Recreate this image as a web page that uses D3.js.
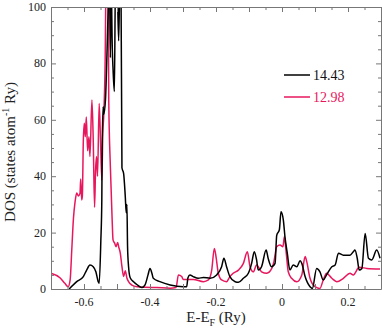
<!DOCTYPE html>
<html><head><meta charset="utf-8">
<script src="https://cdn.jsdelivr.net/npm/d3@7"></script>
<style>body{margin:0;background:#fff}svg{display:block}</style>
</head><body><svg id="c" width="382" height="331"></svg>
<script>
const seriesNames = ["14.43", "12.98"];
const seriesColors = ["#000000", "#e8175d"];
const blackE = [-0.645,-0.622,-0.602,-0.592,-0.582,-0.572,-0.564,-0.557,-0.554,-0.549,-0.546,-0.545,-0.542,-0.540,-0.535,-0.530,-0.526,-0.523,-0.520,-0.518,-0.514,-0.512,-0.508,-0.505,-0.500,-0.495,-0.491,-0.488,-0.485,-0.480,-0.475,-0.472,-0.470,-0.468,-0.465,-0.460,-0.449,-0.439,-0.425,-0.415,-0.406,-0.400,-0.394,-0.390,-0.370,-0.339,-0.299,-0.289,-0.285,-0.279,-0.269,-0.254,-0.238,-0.218,-0.198,-0.183,-0.176,-0.168,-0.158,-0.142,-0.132,-0.117,-0.102,-0.092,-0.084,-0.077,-0.072,-0.062,-0.048,-0.042,-0.032,-0.021,-0.016,-0.008,-0.003,0.004,0.009,0.016,0.024,0.034,0.045,0.055,0.060,0.070,0.085,0.092,0.105,0.115,0.125,0.135,0.151,0.161,0.171,0.186,0.206,0.216,0.221,0.228,0.234,0.242,0.252,0.262,0.272,0.287,0.297];
const blackDOS = [0,2.6,4.4,6.7,8.5,7.9,6.1,2.6,2.0,17,31.6,50,64.6,62,67,85,102,110,82,110,84,78,70,105,110,88,110,110,43,41,33,27,30,15,8,4,2.5,1.5,0.5,1.5,5,7.3,5.5,3.8,2.6,1.4,0.8,0.8,4,5,4.4,3.8,4.1,3.8,5,7.9,10.9,7.9,4.4,2.6,2.4,3.8,5.6,9.1,13.2,10.3,6.7,7.9,13.8,10.9,7.9,9.1,19,21,27.4,24.5,18.5,12.7,6.7,8.5,7.9,10,9.1,4.4,0.8,0.2,7.3,6.1,3.2,5,7.9,8.5,12.7,12,12,13.2,13.8,10.9,6.7,7.3,19.7,10.9,10.3,13.8,10.9];
const redE = [-0.700,-0.673,-0.658,-0.648,-0.642,-0.637,-0.632,-0.627,-0.622,-0.617,-0.612,-0.610,-0.607,-0.605,-0.602,-0.599,-0.596,-0.593,-0.589,-0.585,-0.582,-0.576,-0.572,-0.568,-0.565,-0.562,-0.559,-0.554,-0.550,-0.546,-0.543,-0.540,-0.536,-0.533,-0.527,-0.525,-0.520,-0.515,-0.512,-0.507,-0.503,-0.498,-0.495,-0.490,-0.485,-0.480,-0.475,-0.470,-0.465,-0.455,-0.439,-0.415,-0.380,-0.339,-0.321,-0.314,-0.304,-0.299,-0.269,-0.238,-0.223,-0.213,-0.205,-0.200,-0.193,-0.183,-0.168,-0.158,-0.148,-0.132,-0.117,-0.105,-0.097,-0.087,-0.077,-0.062,-0.046,-0.031,-0.024,-0.016,-0.006,0.003,0.007,0.012,0.019,0.029,0.045,0.060,0.070,0.075,0.085,0.100,0.115,0.125,0.135,0.151,0.166,0.186,0.206,0.216,0.234,0.257,0.297];
const redDOS = [5.6,4.0,2.0,0.8,3.2,14,25,31,34,33,34,39,31.6,33,52.8,58.8,54,61,49,54,47,67,52.8,29,42,47,40,65.8,52.8,38.6,55,62,80,110,110,67,43,25.6,17.4,16.2,15,16.5,15,12.7,7.9,4.4,6.5,3.9,2.6,1.4,0.8,0.6,0.5,0.3,0.5,5,4.4,3.4,3.4,2.6,3.2,6.7,14.4,11.5,5.6,3.2,2.6,4.4,5.6,6.7,9.1,13.2,8,6.1,8.5,6.1,5.6,7.3,10,15,15.6,15,18.5,13.8,6.1,3.8,2.6,5,11.5,9.7,3.8,0.8,0.2,3.2,5.6,3.8,2.6,3.8,5.6,5,7.7,7.3,7.1];
const xTickLabels = [-0.6,-0.4,-0.2,0,0.2];
const yTickLabels = [0,20,40,60,80,100];

// pick an installed serif font
function pickFont(){
  const c=document.createElement("canvas").getContext("2d");
  const s="DOS (states atom Ry) 0123456789 E-E";
  const cands=["Liberation Serif","Times New Roman","Tinos","DejaVu Serif","Noto Serif","FreeSerif","Nimbus Roman","serif"];
  for(const f of cands){
    let same=true;
    for(const fb of ["monospace","sans-serif"]){
      c.font=`40px ${fb}`; const w0=c.measureText(s).width;
      c.font=`40px "${f}", ${fb}`; const w1=c.measureText(s).width;
      if(Math.abs(w0-w1)<0.5){ same=true; break; } else same=false;
    }
    if(!same) return `"${f}", serif`;
  }
  return "serif";
}
const FONT = pickFont();
const svg = d3.select("#c");
const L=51,R=381,T=7,B=289;
const x = d3.scaleLinear().domain([-0.7,0.3]).range([L,R]);
const y = d3.scaleLinear().domain([0,100]).range([B,T]);
const axisColor="#777";

svg.append("clipPath").attr("id","clip").append("rect").attr("x",L).attr("y",T).attr("width",R-L).attr("height",B-T);

const series=[d3.zip(blackE,blackDOS), d3.zip(redE,redDOS)];
const line=d3.line().x(d=>x(d[0])).y(d=>y(d[1])).curve(d3.curveMonotoneX);
const g=svg.append("g").attr("clip-path","url(#clip)");
[1,0].forEach(i=>{
  g.append("path").datum(series[i]).attr("d",line).attr("fill","none")
   .attr("stroke",seriesColors[i]).attr("stroke-width",1.5).attr("stroke-linejoin","round");
});

const xMinor=d3.range(-0.7,0.3001,0.05).map(v=>+v.toFixed(2));
const yMinor=d3.range(0,100.01,5);
function styleAxis(sel){sel.select(".domain").attr("stroke",axisColor);sel.selectAll(".tick line").attr("stroke",axisColor);}
const isMajX=v=>Math.abs(Math.round(v*10)-v*10)<1e-6;
const xb=svg.append("g").attr("transform",`translate(0,${B})`).call(d3.axisBottom(x).tickValues(xMinor).tickSizeOuter(0).tickSize(0).tickFormat(""));
xb.selectAll(".tick line").attr("y2",d=>isMajX(d)?-5:-3);
styleAxis(xb);
const xt=svg.append("g").attr("transform",`translate(0,${T})`).call(d3.axisTop(x).tickValues(xMinor).tickSizeOuter(0).tickSize(0).tickFormat(""));
xt.selectAll(".tick line").attr("y2",d=>isMajX(d)?5:3);
styleAxis(xt);
svg.append("g").selectAll("text").data(xTickLabels).join("text")
  .attr("x",d=>x(d)).attr("y",B+17).attr("text-anchor","middle").attr("font-size",12).attr("font-family",FONT).attr("fill","#222")
  .text(d=>d===0?"0":d3.format(".1f")(d).replace("−","-"));

const yl=svg.append("g").attr("transform",`translate(${L},0)`).call(d3.axisLeft(y).tickValues(yMinor).tickSizeOuter(0).tickSize(0).tickFormat(""));
yl.selectAll(".tick line").attr("x2",d=>d%20===0?5:3);
styleAxis(yl);
const yr=svg.append("g").attr("transform",`translate(${R},0)`).call(d3.axisRight(y).tickValues(yMinor).tickSizeOuter(0).tickSize(0).tickFormat(""));
yr.selectAll(".tick line").attr("x2",d=>d%20===0?-5:-3);
styleAxis(yr);
svg.append("g").selectAll("text").data(yTickLabels).join("text")
  .attr("x",L-5).attr("y",d=>y(d)+4).attr("text-anchor","end").attr("font-size",12).attr("font-family",FONT).attr("fill","#222").text(d=>d);

const xtitle=svg.append("text").attr("x",216).attr("y",322).attr("text-anchor","middle").attr("font-size",15).attr("font-family",FONT).attr("fill","#222");
xtitle.append("tspan").text("E-E");
xtitle.append("tspan").attr("font-size",10).attr("dy",4).text("F");
xtitle.append("tspan").attr("dy",-4).text(" (Ry)");
const ytitle=svg.append("text").attr("transform","translate(15,152) rotate(-90)").attr("text-anchor","middle").attr("font-size",15).attr("font-family",FONT).attr("fill","#222");
ytitle.append("tspan").text("DOS (states atom");
ytitle.append("tspan").attr("font-size",10).attr("dy",-6).text("-1");
ytitle.append("tspan").attr("dy",6).text(" Ry)");

const ly=[75,97];
seriesNames.forEach((n,i)=>{
  svg.append("line").attr("x1",284).attr("x2",310).attr("y1",ly[i]).attr("y2",ly[i]).attr("stroke",seriesColors[i]).attr("stroke-width",1.5);
  svg.append("text").attr("x",313).attr("y",ly[i]+5).attr("font-size",14).attr("font-family",FONT).attr("fill",i===0?"#111":seriesColors[i]).text(n);
});
</script></body></html>
